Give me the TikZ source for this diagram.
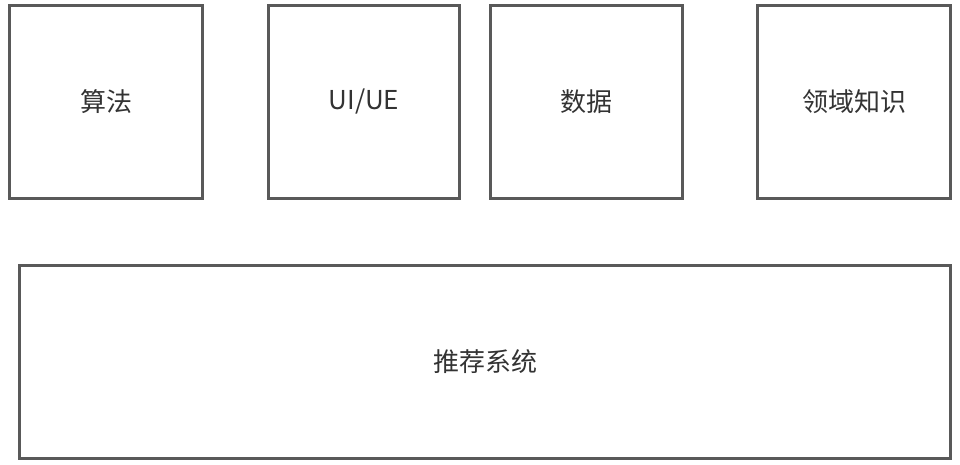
\documentclass[tikz,border=0pt]{standalone}
\usepackage{fontspec}
\setmainfont{Noto Sans CJK SC}
\definecolor{linegray}{HTML}{595959}
\definecolor{textgray}{HTML}{333333}
\begin{document}
\begin{tikzpicture}[x=1pt,y=-1pt,
  boxstyle/.style={draw=linegray,line width=3pt,text=textgray,font=\fontsize{26}{30}\selectfont}]
\useasboundingbox[fill=white] (0,0) rectangle (960,464);
\node[boxstyle,minimum width=193pt,minimum height=193pt] (alg) at (106,102) {算法};
\node[boxstyle,minimum width=191pt,minimum height=193pt] (ui) at (364,102) {UI/UE};
\node[boxstyle,minimum width=192pt,minimum height=193pt] (data) at (586.5,102) {数据};
\node[boxstyle,minimum width=193pt,minimum height=193pt] (dom) at (854,102) {领域知识};
\node[boxstyle,minimum width=931pt,minimum height=193pt] (rec) at (485,362) {推荐系统};
\end{tikzpicture}
\end{document}
